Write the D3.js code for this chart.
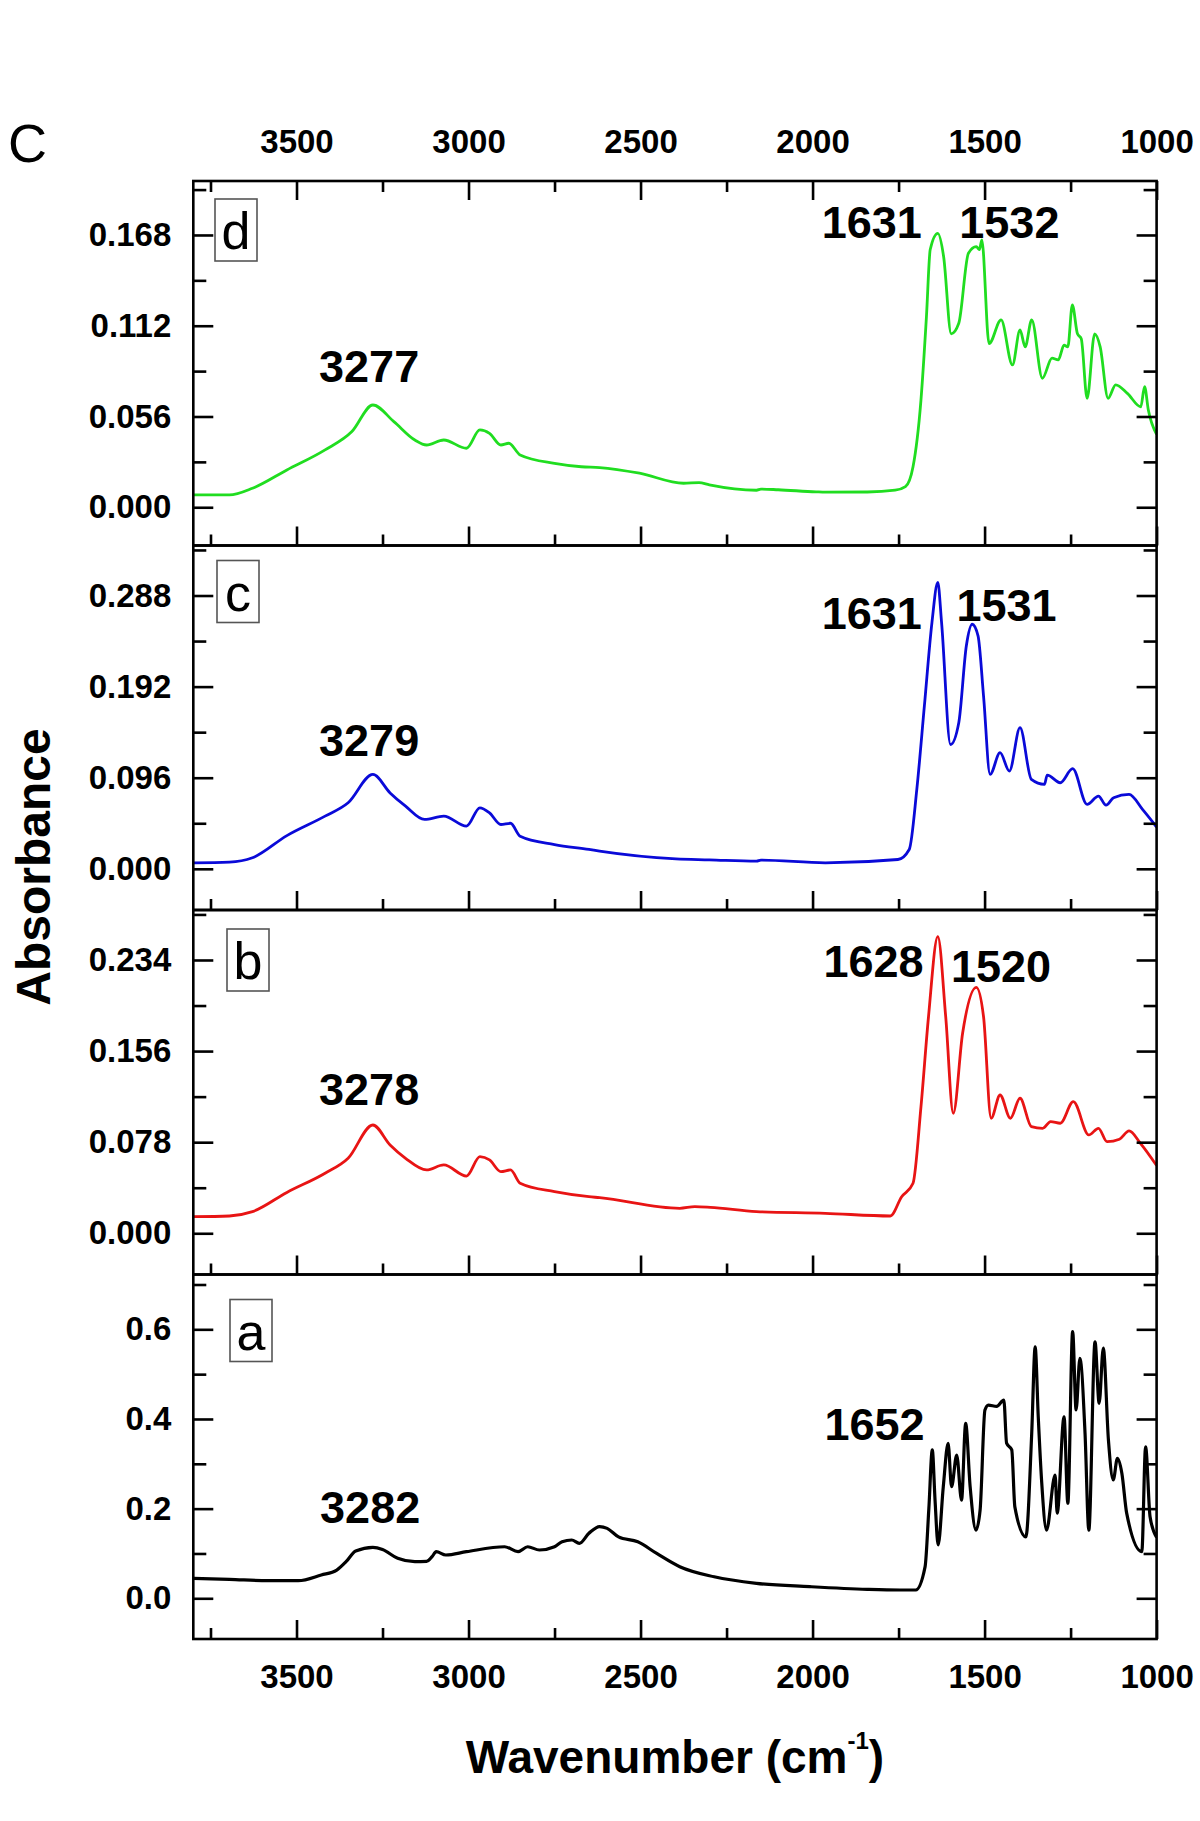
<!DOCTYPE html>
<html><head><meta charset="utf-8">
<script src="https://cdn.jsdelivr.net/npm/d3@7"></script>
<style>
body{margin:0;background:#fff}
svg{display:block}
text{font-family:"Liberation Sans",Arial,Helvetica,sans-serif}
</style>
</head><body>
<svg id="chart" width="1200" height="1821"></svg>
<script>
// ---------------- data ----------------
const panelLetters = ["d", "c", "b", "a"];
const xTickValues = [3500, 3000, 2500, 2000, 1500, 1000];
const xMinorTickValues = [3750, 3250, 2750, 2250, 1750, 1250];
const xDomain = [3800, 1000];

const yTicksD = [0, 0.056, 0.112, 0.168];
const yMinorD = [0.028, 0.084, 0.140, 0.196];
const yTicksC = [0, 0.096, 0.192, 0.288];
const yMinorC = [0.048, 0.144, 0.240, 0.336];
const yTicksB = [0, 0.078, 0.156, 0.234];
const yMinorB = [0.039, 0.117, 0.195, 0.273];
const yTicksA = [0, 0.2, 0.4, 0.6];
const yMinorA = [0.1, 0.3, 0.5, 0.7];

const yDomainD = [-0.0236, 0.2013];
const yDomainC = [-0.0434, 0.3407];
const yDomainB = [-0.0353, 0.2768];
const yDomainA = [-0.0908, 0.7223];

// [wavenumber (cm-1), absorbance]
const spectrumD = [
  [3800,0.0076],[3695,0.0076],[3628,0.0117],[3528,0.023],[3417,0.0354],[3339,0.0467],
  [3278,0.0631],[3217,0.0528],[3156,0.0415],[3122,0.0384],[3072,0.0415],[3006,0.0364],
  [2967,0.0477],[2939,0.0456],[2906,0.0384],[2883,0.0395],[2850,0.0323],[2750,0.0271],
  [2672,0.025],[2619,0.0245],[2503,0.021],[2375,0.0148],[2330,0.0152],[2300,0.0138],
  [2163,0.0105],[2150,0.0112],[2100,0.0108],[1990,0.0095],[1963,0.0093],[1841,0.0094],
  [1760,0.0105],[1730,0.0127],[1708,0.025],[1685,0.066],[1669,0.1176],[1658,0.159],
  [1636,0.169],[1619,0.1546],[1597,0.107],[1575,0.1135],[1547,0.1567],[1524,0.1608],
  [1515,0.159],[1508,0.165],[1487,0.101],[1452,0.1156],[1419,0.0878],[1397,0.1094],
  [1382,0.099],[1363,0.1156],[1332,0.0796],[1304,0.092],[1286,0.0909],[1269,0.100],
  [1258,0.099],[1245,0.1248],[1230,0.107],[1219,0.104],[1202,0.0672],[1180,0.107],
  [1164,0.099],[1141,0.0672],[1119,0.0755],[1085,0.0703],[1046,0.062],[1035,0.0744],
  [1024,0.060],[1000,0.045]
];
const spectrumC = [
  [3800,0.0063],[3695,0.007],[3628,0.0116],[3528,0.035],[3417,0.0555],[3350,0.0696],
  [3278,0.0995],[3228,0.080],[3183,0.066],[3128,0.052],[3072,0.0555],[3006,0.045],
  [2967,0.0643],[2939,0.059],[2906,0.0467],[2878,0.048],[2850,0.0344],[2750,0.0256],
  [2650,0.0204],[2619,0.0186],[2397,0.0105],[2300,0.0095],[2163,0.008],[2150,0.0092],
  [1963,0.0063],[1752,0.0098],[1719,0.0204],[1697,0.0837],[1675,0.1716],[1653,0.2595],
  [1636,0.3017],[1625,0.2595],[1599,0.131],[1575,0.154],[1553,0.235],[1536,0.2577],
  [1519,0.2454],[1503,0.182],[1484,0.0995],[1455,0.1224],[1428,0.103],[1397,0.1487],
  [1364,0.0942],[1326,0.089],[1318,0.0988],[1280,0.0907],[1244,0.1055],[1202,0.0678],
  [1169,0.0766],[1147,0.0671],[1125,0.0749],[1080,0.0784],[1041,0.0626],[1000,0.044]
];
const spectrumB = [
  [3800,0.0142],[3695,0.0148],[3628,0.0185],[3528,0.035],[3417,0.0514],[3350,0.0642],
  [3278,0.0927],[3228,0.0756],[3183,0.0642],[3122,0.0542],[3072,0.0585],[3006,0.049],
  [2967,0.0656],[2939,0.0628],[2906,0.0528],[2878,0.0542],[2850,0.0428],[2750,0.0356],
  [2650,0.0313],[2619,0.0305],[2386,0.0214],[2342,0.0228],[2297,0.0222],[2163,0.0185],
  [1963,0.0171],[1774,0.0148],[1741,0.0313],[1708,0.0428],[1685,0.108],[1663,0.1854],
  [1636,0.254],[1613,0.1854],[1591,0.1027],[1564,0.171],[1524,0.2106],[1503,0.1854],
  [1481,0.0985],[1455,0.1184],[1425,0.0985],[1397,0.1156],[1364,0.0913],[1331,0.0899],
  [1308,0.0956],[1280,0.0942],[1242,0.1127],[1197,0.0842],[1169,0.0899],[1144,0.0784],
  [1108,0.0805],[1080,0.0876],[1047,0.077],[1000,0.058]
];
const spectrumA = [
  [3800,0.0446],[3695,0.0424],[3583,0.0392],[3495,0.0392],[3428,0.052],[3383,0.063],
  [3356,0.0816],[3328,0.1055],[3278,0.1137],[3250,0.109],[3206,0.0892],[3156,0.0816],
  [3122,0.0823],[3106,0.0928],[3094,0.104],[3066,0.0966],[3006,0.104],[2895,0.115],
  [2856,0.104],[2828,0.115],[2794,0.1077],[2750,0.115],[2728,0.126],[2700,0.130],
  [2678,0.1226],[2650,0.145],[2619,0.16],[2597,0.156],[2564,0.137],[2508,0.126],
  [2453,0.100],[2386,0.0705],[2286,0.048],[2163,0.0334],[2008,0.026],[1841,0.020],
  [1746,0.0185],[1700,0.0185],[1673,0.07],[1662,0.2],[1652,0.331],[1644,0.219],
  [1635,0.119],[1620,0.249],[1606,0.3457],[1596,0.249],[1581,0.3197],[1567,0.219],
  [1555,0.390],[1542,0.249],[1525,0.152],[1513,0.197],[1499,0.42],[1489,0.431],
  [1465,0.428],[1444,0.442],[1436,0.346],[1421,0.331],[1412,0.204],[1380,0.137],
  [1363,0.368],[1353,0.561],[1344,0.405],[1334,0.259],[1320,0.152],[1295,0.275],
  [1289,0.19],[1269,0.405],[1258,0.212],[1244,0.595],[1234,0.42],[1223,0.535],
  [1208,0.368],[1197,0.152],[1179,0.572],[1167,0.435],[1155,0.558],[1140,0.353],
  [1126,0.264],[1114,0.312],[1101,0.279],[1087,0.19],[1043,0.104],[1032,0.338],
  [1019,0.182],[1000,0.136]
];

// peak annotations: [text, wavenumber of label centre, absorbance of label baseline]
const peakLabelsD = [["3277",3289,0.0775],["1631",1828,0.166],["1532",1428,0.166]];
const peakLabelsC = [["3279",3289,0.1187],["1631",1828,0.2532],["1531",1436,0.2616]];
const peakLabelsB = [["3278",3289,0.1098],["1628",1823,0.2192],["1520",1452,0.2154]];
const peakLabelsA = [["3282",3286,0.1673],["1652",1820,0.353]];

const xAxisTitle = "Wavenumber (cm";
const xAxisTitleSup = "-1";
const yAxisTitle = "Absorbance";
const figureLetter = "C";

// ---------------- layout ----------------
const panels = [
  {letter: panelLetters[0], data: spectrumD, dom: yDomainD, ticks: yTicksD, minor: yMinorD, labels: peakLabelsD, color: "#20dd20", fmt: ".3f", box: [215, 18], lw: 2.8},
  {letter: panelLetters[1], data: spectrumC, dom: yDomainC, ticks: yTicksC, minor: yMinorC, labels: peakLabelsC, color: "#0a0ad8", fmt: ".3f", box: [217, 15], lw: 2.8},
  {letter: panelLetters[2], data: spectrumB, dom: yDomainB, ticks: yTicksB, minor: yMinorB, labels: peakLabelsB, color: "#e81414", fmt: ".3f", box: [227, 19], lw: 2.8},
  {letter: panelLetters[3], data: spectrumA, dom: yDomainA, ticks: yTicksA, minor: yMinorA, labels: peakLabelsA, color: "#000000", fmt: ".1f", box: [230, 25], lw: 3.2}
];
const left = 193.3, right = 1156.6, top0 = 181, panelH = 364.5;
const tickFont = 33, peakFont = 45;

const svg = d3.select("#chart");
const x = d3.scaleLinear().domain(xDomain).range([left, right]);

panels.forEach((p, i) => {
  const t = top0 + i * panelH, b = t + panelH;
  const y = d3.scaleLinear().domain(p.dom).range([b, t]);
  const g = svg.append("g");

  const clipId = "clip" + i;
  svg.append("clipPath").attr("id", clipId).append("rect")
    .attr("x", left).attr("y", t).attr("width", right - left).attr("height", panelH);

  // spectrum
  const line = d3.line().x(d => x(d[0])).y(d => y(d[1])).curve(d3.curveMonotoneX);
  g.append("path").datum(p.data)
    .attr("clip-path", `url(#${clipId})`)
    .attr("fill", "none").attr("stroke", p.color).attr("stroke-width", p.lw)
    .attr("stroke-linejoin", "round").attr("d", line);

  // left axis
  g.append("g").attr("transform", `translate(${left},0)`)
    .call(d3.axisLeft(y).tickValues(p.ticks).tickSize(-20).tickPadding(22).tickFormat(d3.format(p.fmt)));
  g.append("g").attr("transform", `translate(${left},0)`)
    .call(d3.axisLeft(y).tickValues(p.minor).tickSize(-13).tickFormat(""));
  // right axis
  g.append("g").attr("transform", `translate(${right},0)`)
    .call(d3.axisRight(y).tickValues(p.ticks).tickSize(-20).tickFormat(""));
  g.append("g").attr("transform", `translate(${right},0)`)
    .call(d3.axisRight(y).tickValues(p.minor).tickSize(-13).tickFormat(""));
  // bottom axis
  g.append("g").attr("transform", `translate(0,${b})`)
    .call(d3.axisBottom(x).tickValues(xTickValues).tickSize(-19).tickPadding(26)
      .tickFormat(i === panels.length - 1 ? d3.format("d") : ""));
  g.append("g").attr("transform", `translate(0,${b})`)
    .call(d3.axisBottom(x).tickValues(xMinorTickValues).tickSize(-11).tickFormat(""));
  // top axis (first panel only)
  if (i === 0) {
    g.append("g").attr("transform", `translate(0,${t})`)
      .call(d3.axisTop(x).tickValues(xTickValues).tickSize(-19).tickPadding(28).tickFormat(d3.format("d")));
    g.append("g").attr("transform", `translate(0,${t})`)
      .call(d3.axisTop(x).tickValues(xMinorTickValues).tickSize(-11).tickFormat(""));
  }

  // frame
  g.append("rect").attr("x", left).attr("y", t).attr("width", right - left).attr("height", panelH)
    .attr("fill", "none").attr("stroke", "#000").attr("stroke-width", 2.6);

  // peak labels
  g.selectAll("text.peak").data(p.labels).join("text").attr("class", "peak")
    .attr("x", d => x(d[1])).attr("y", d => y(d[2]))
    .attr("text-anchor", "middle").attr("font-size", peakFont).attr("font-weight", "bold")
    .text(d => d[0]);

  // panel letter box
  const bx = p.box[0], by = t + p.box[1];
  g.append("rect").attr("x", bx).attr("y", by).attr("width", 42).attr("height", 62)
    .attr("fill", "#fff").attr("stroke", "#555").attr("stroke-width", 1.6);
  g.append("text").attr("x", bx + 21).attr("y", by + 50).attr("text-anchor", "middle")
    .attr("font-size", 52).text(p.letter);
});

// style axes
svg.selectAll(".domain").remove();
svg.selectAll(".tick line").attr("stroke", "#000").attr("stroke-width", 2.6);
svg.selectAll(".tick text").attr("font-size", tickFont).attr("font-weight", "bold")
  .attr("font-family", "'Liberation Sans', Arial, sans-serif").attr("fill", "#000");

// figure letter
svg.append("text").attr("x", 8).attr("y", 162).attr("font-size", 54).text(figureLetter);

// axis titles
const xt = svg.append("text").attr("x", (left + right) / 2).attr("y", 1773)
  .attr("text-anchor", "middle").attr("font-size", 46).attr("font-weight", "bold");
xt.append("tspan").text(xAxisTitle);
xt.append("tspan").attr("font-size", 24).attr("dy", -24).text(xAxisTitleSup);
xt.append("tspan").attr("dy", 24).text(")");

svg.append("text").attr("transform", "translate(50,867) rotate(-90)")
  .attr("text-anchor", "middle").attr("font-size", 48).attr("font-weight", "bold").text(yAxisTitle);
</script>
</body></html>
